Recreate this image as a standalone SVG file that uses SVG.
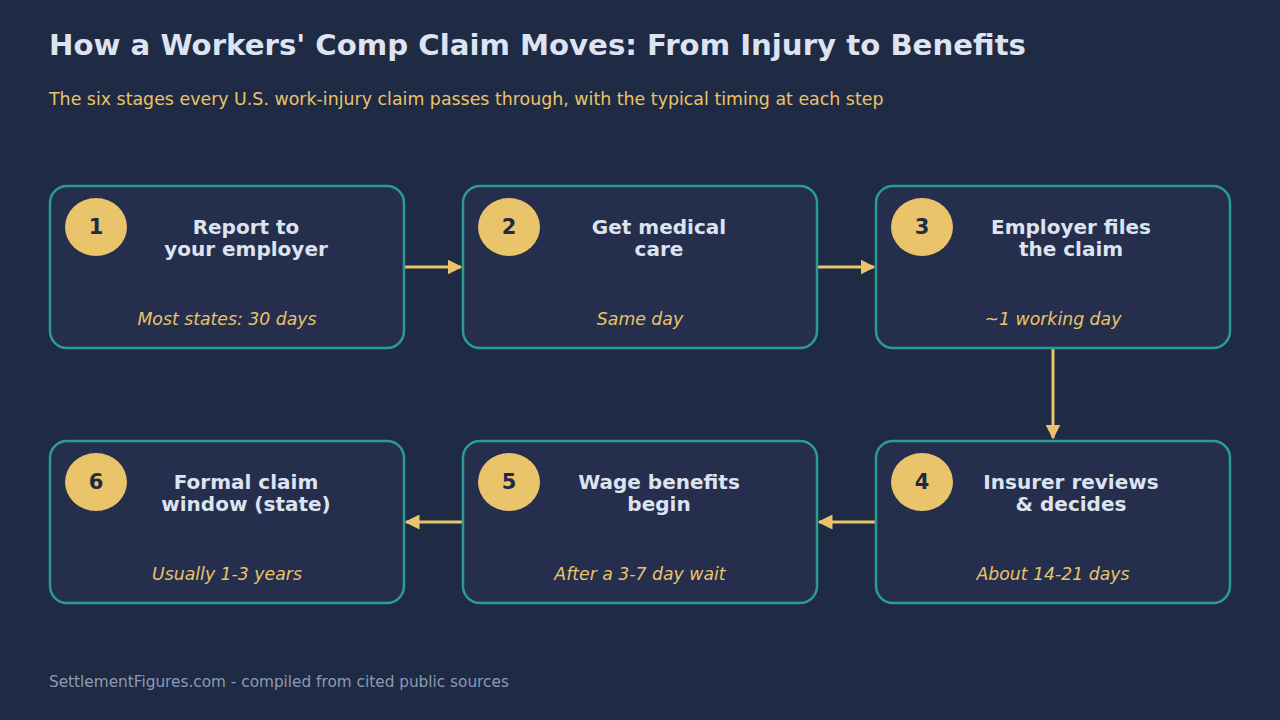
<svg xmlns="http://www.w3.org/2000/svg" width="1280" height="720" viewBox="0 0 1280 720">
<defs>
<style>
.bg{fill:#1f2a44}
.box{fill:#252f4d;stroke:#2a9d8f;stroke-width:2.5}
.badge{fill:#e9c46a}
.num{font-family:"DejaVu Sans",sans-serif;font-weight:bold;font-size:21px;fill:#1f2a44;text-anchor:middle}
.ttl{font-family:"DejaVu Sans",sans-serif;font-weight:bold;font-size:20px;fill:#dde3f0;text-anchor:middle}
.tm{font-family:"DejaVu Sans",sans-serif;font-style:italic;font-size:17.3px;fill:#e9c46a;text-anchor:middle}
.conn{stroke:#e9c46a;stroke-width:3;fill:none}
</style>
<marker id="ah" viewBox="0 0 10 10" refX="9" refY="5" markerWidth="5" markerHeight="5" markerUnits="strokeWidth" orient="auto">
<path d="M0,0 L10,5 L0,10 Z" fill="#e9c46a"/>
</marker>
</defs>
<rect class="bg" width="1280" height="720"/>
<text x="49" y="55" font-family="DejaVu Sans, sans-serif" font-weight="bold" font-size="29.2" fill="#dde3f0">How a Workers' Comp Claim Moves: From Injury to Benefits</text>
<text x="49" y="105" font-family="DejaVu Sans, sans-serif" font-size="17.4" fill="#e9c46a">The six stages every U.S. work-injury claim passes through, with the typical timing at each step</text>

<g id="connectors">
<line class="conn" x1="404" y1="267" x2="461" y2="267" marker-end="url(#ah)"/>
<line class="conn" x1="817" y1="267" x2="874" y2="267" marker-end="url(#ah)"/>
<line class="conn" x1="1053" y1="348" x2="1053" y2="438" marker-end="url(#ah)"/>
<line class="conn" x1="876" y1="522" x2="819" y2="522" marker-end="url(#ah)"/>
<line class="conn" x1="463" y1="522" x2="406" y2="522" marker-end="url(#ah)"/>
</g>

<g id="node1">
<rect class="box" x="50" y="186" width="354" height="162" rx="17"/>
<ellipse class="badge" cx="96" cy="227" rx="31" ry="29"/>
<text class="num" x="96" y="234">1</text>
<text class="ttl" x="246" y="234">Report to</text>
<text class="ttl" x="246" y="256">your employer</text>
<text class="tm" x="227" y="325">Most states: 30 days</text>
</g>
<g id="node2">
<rect class="box" x="463" y="186" width="354" height="162" rx="17"/>
<ellipse class="badge" cx="509" cy="227" rx="31" ry="29"/>
<text class="num" x="509" y="234">2</text>
<text class="ttl" x="659" y="234">Get medical</text>
<text class="ttl" x="659" y="256">care</text>
<text class="tm" x="640" y="325">Same day</text>
</g>
<g id="node3">
<rect class="box" x="876" y="186" width="354" height="162" rx="17"/>
<ellipse class="badge" cx="922" cy="227" rx="31" ry="29"/>
<text class="num" x="922" y="234">3</text>
<text class="ttl" x="1071" y="234">Employer files</text>
<text class="ttl" x="1071" y="256">the claim</text>
<text class="tm" x="1053" y="325">~1 working day</text>
</g>
<g id="node4">
<rect class="box" x="876" y="441" width="354" height="162" rx="17"/>
<ellipse class="badge" cx="922" cy="482" rx="31" ry="29"/>
<text class="num" x="922" y="489">4</text>
<text class="ttl" x="1071" y="489">Insurer reviews</text>
<text class="ttl" x="1071" y="511">&amp; decides</text>
<text class="tm" x="1053" y="580">About 14-21 days</text>
</g>
<g id="node5">
<rect class="box" x="463" y="441" width="354" height="162" rx="17"/>
<ellipse class="badge" cx="509" cy="482" rx="31" ry="29"/>
<text class="num" x="509" y="489">5</text>
<text class="ttl" x="659" y="489">Wage benefits</text>
<text class="ttl" x="659" y="511">begin</text>
<text class="tm" x="640" y="580">After a 3-7 day wait</text>
</g>
<g id="node6">
<rect class="box" x="50" y="441" width="354" height="162" rx="17"/>
<ellipse class="badge" cx="96" cy="482" rx="31" ry="29"/>
<text class="num" x="96" y="489">6</text>
<text class="ttl" x="246" y="489">Formal claim</text>
<text class="ttl" x="246" y="511">window (state)</text>
<text class="tm" x="227" y="580">Usually 1-3 years</text>
</g>

<text x="49" y="687" font-family="DejaVu Sans, sans-serif" font-size="15.3" fill="#8d9bb5">SettlementFigures.com - compiled from cited public sources</text>
</svg>
